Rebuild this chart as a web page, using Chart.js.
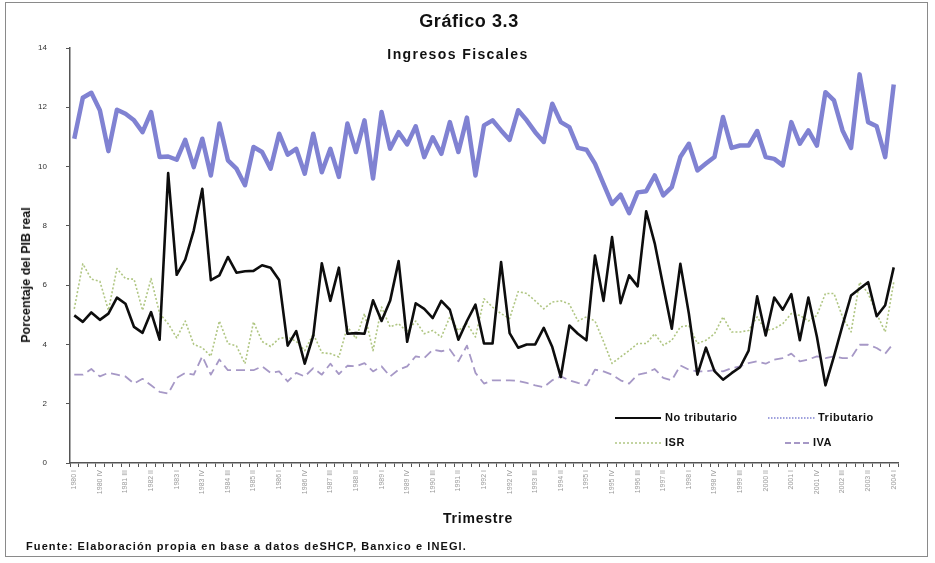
<!DOCTYPE html>
<html>
<head>
<meta charset="utf-8">
<script src="https://cdn.jsdelivr.net/npm/chart.js@4.4.1/dist/chart.umd.min.js"></script>
<style>
  html, body { margin: 0; padding: 0; background: #fff; }
  #wrap { position: relative; width: 935px; height: 563px; overflow: hidden;
          font-family: "Liberation Sans", Arial, sans-serif; }
  #frame { position: absolute; left: 5px; top: 2px; width: 923px; height: 555px;
           border: 1.5px solid #8a8a8a; box-sizing: border-box; }
  canvas { position: absolute; left: 0; top: 0; }
  .t { position: absolute; white-space: nowrap; font-weight: bold; color: #111; }
</style>
</head>
<body>
<div id="wrap">
  <div id="frame"></div>
  <canvas id="c" width="935" height="563"></canvas>
  <div class="t" style="left:0;width:938px;text-align:center;top:11px;font-size:18px;letter-spacing:0.6px;">Gráfico 3.3</div>
  <div class="t" style="left:0;width:916px;text-align:center;top:46px;font-size:14px;letter-spacing:1.4px;">Ingresos Fiscales</div>
  <div class="t" style="left:26px;top:275px;font-size:12.5px;transform:translate(-50%,-50%) rotate(-90deg);">Porcentaje del PIB real</div>
  <div class="t" style="left:0;width:956px;text-align:center;top:510px;font-size:14px;letter-spacing:0.8px;">Trimestre</div>
  <div class="t" style="left:26px;top:540px;font-size:11px;letter-spacing:1.1px;">Fuente: Elaboración propia en base a datos deSHCP, Banxico e INEGI.</div>
</div>
<script>
// Quarter labels, 1980 I .. 2004 I
const romanQ = ['I', 'II', 'III', 'IV'];
const quarters = [];
for (let y = 1980; y <= 2004; y++) {
  for (const q of romanQ) {
    if (y === 2004 && q !== 'I') break;
    quarters.push(y + ' ' + q);
  }
}

// Revenue as % of real GDP
const noTributario = [
  4.98, 4.76, 5.08, 4.83, 5.04, 5.58, 5.37, 4.59, 4.39, 5.09,
  4.16, 9.78, 6.35, 6.86, 7.85, 9.25, 6.17, 6.33, 6.95, 6.42,
  6.47, 6.48, 6.67, 6.59, 6.17, 3.96, 4.45, 3.35, 4.30, 6.74,
  5.47, 6.59, 4.36, 4.38, 4.36, 5.49, 4.79, 5.47, 6.81, 4.09,
  5.39, 5.20, 4.89, 5.47, 5.17, 4.16, 4.79, 5.34, 4.03, 4.03,
  6.78, 4.38, 3.89, 4.00, 4.00, 4.56, 3.91, 2.90, 4.64, 4.36,
  4.14, 7.00, 5.47, 7.62, 5.39, 6.33, 5.96, 8.49, 7.41, 5.96,
  4.53, 6.72, 5.04, 2.98, 3.89, 3.10, 2.81, 3.03, 3.23, 3.79,
  5.62, 4.30, 5.58, 5.17, 5.70, 4.14, 5.58, 4.26, 2.62, 3.60,
  4.64, 5.65, 5.88, 6.10, 4.95, 5.32, 6.60
];
const tributario = [
  10.94, 12.32, 12.49, 11.90, 10.52, 11.92, 11.78, 11.56, 11.16, 11.84,
  10.32, 10.34, 10.23, 10.90, 9.98, 10.94, 9.70, 11.45, 10.21, 9.93,
  9.37, 10.66, 10.49, 9.93, 11.11, 10.40, 10.60, 9.76, 11.11, 9.81,
  10.60, 9.65, 11.45, 10.49, 11.56, 9.60, 11.84, 10.60, 11.16, 10.75,
  11.36, 10.32, 10.99, 10.43, 11.50, 10.49, 11.65, 9.70, 11.39, 11.56,
  11.22, 10.90, 11.90, 11.56, 11.16, 10.83, 12.12, 11.50, 11.33, 10.63,
  10.57, 10.10, 9.42, 8.74, 9.05, 8.43, 9.13, 9.17, 9.70, 9.03,
  9.31, 10.32, 10.77, 9.87, 10.10, 10.32, 11.67, 10.63, 10.71, 10.71,
  11.20, 10.32, 10.26, 10.04, 11.50, 10.77, 11.22, 10.71, 12.51, 12.23,
  11.22, 10.63, 13.11, 11.50, 11.36, 10.32, 12.77
];
const isr = [
  5.20, 6.72, 6.20, 6.13, 5.15, 6.56, 6.22, 6.20, 5.15, 6.22,
  5.04, 4.70, 4.22, 4.79, 4.00, 3.89, 3.60, 4.79, 4.03, 3.95,
  3.35, 4.76, 4.10, 3.93, 4.20, 4.25, 4.10, 3.79, 4.36, 3.72,
  3.69, 3.58, 4.60, 4.20, 5.04, 3.79, 5.26, 4.59, 4.70, 4.42,
  4.79, 4.36, 4.47, 4.25, 4.93, 4.47, 4.70, 4.25, 5.54, 5.26,
  5.04, 4.87, 5.78, 5.72, 5.47, 5.20, 5.43, 5.47, 5.36, 4.79,
  4.93, 4.79, 4.10, 3.36, 3.58, 3.79, 4.03, 4.03, 4.36, 3.97,
  4.14, 4.59, 4.64, 4.03, 4.14, 4.36, 4.93, 4.42, 4.42, 4.47,
  4.93, 4.47, 4.53, 4.70, 5.04, 4.98, 4.79, 4.98, 5.72, 5.72,
  4.93, 4.42, 6.10, 5.72, 5.04, 4.42, 6.10
];
const iva = [
  2.98, 2.98, 3.17, 2.92, 3.04, 2.98, 2.92, 2.68, 2.84, 2.62,
  2.40, 2.34, 2.87, 3.04, 2.98, 3.60, 2.98, 3.49, 3.13, 3.13,
  3.13, 3.13, 3.26, 3.04, 3.09, 2.75, 3.04, 2.92, 3.20, 2.98,
  3.35, 3.00, 3.28, 3.26, 3.37, 3.09, 3.26, 2.92, 3.15, 3.26,
  3.60, 3.54, 3.82, 3.77, 3.83, 3.43, 3.96, 3.04, 2.68, 2.79,
  2.79, 2.79, 2.77, 2.70, 2.62, 2.56, 2.79, 2.92, 2.79, 2.70,
  2.62, 3.15, 3.09, 2.98, 2.79, 2.68, 2.98, 3.04, 3.17, 2.87,
  2.79, 3.29, 3.15, 3.09, 3.09, 3.13, 3.09, 3.20, 3.26, 3.37,
  3.43, 3.35, 3.49, 3.54, 3.69, 3.43, 3.49, 3.60, 3.54, 3.60,
  3.54, 3.54, 3.99, 3.99, 3.88, 3.69, 4.05
];

// Two-by-two legend drawn inside the plot area, using each dataset's colour
const cornerLegend = {
  id: 'cornerLegend',
  afterDatasetsDraw(chart, args, opts) {
    const ctx = chart.ctx;
    opts.items.forEach(it => {
      const ds = chart.data.datasets[it.dataset];
      ctx.save();
      ctx.strokeStyle = ds.borderColor;
      ctx.lineWidth = it.lineWidth;
      ctx.setLineDash(it.dash || []);
      ctx.beginPath();
      ctx.moveTo(it.x0, it.y);
      ctx.lineTo(it.x1, it.y);
      ctx.stroke();
      ctx.setLineDash([]);
      ctx.fillStyle = '#111';
      ctx.font = 'bold 11px "Liberation Sans", Arial, sans-serif';
      if ('letterSpacing' in ctx) ctx.letterSpacing = '0.5px';
      ctx.textBaseline = 'middle';
      ctx.fillText(ds.label, it.tx, it.y);
      ctx.restore();
    });
  }
};

new Chart(document.getElementById('c'), {
  type: 'line',
  data: {
    labels: quarters,
    datasets: [
      { label: 'No tributario', data: noTributario, borderColor: '#0d0d0d', borderWidth: 2.6 },
      { label: 'Tributario', data: tributario, borderColor: '#8082d2', borderWidth: 4.5 },
      { label: 'ISR', data: isr, borderColor: '#b0c683', borderWidth: 1.6, borderDash: [2, 2] },
      { label: 'IVA', data: iva, borderColor: '#a698c6', borderWidth: 1.8, borderDash: [9, 5] }
    ]
  },
  options: {
    responsive: false,
    animation: false,
    layout: { padding: { left: 0, right: 37, top: 48, bottom: 0 } },
    elements: {
      point: { radius: 0 },
      line: { tension: 0, borderJoinStyle: 'round', fill: false }
    },
    plugins: {
      legend: { display: false },
      tooltip: { enabled: false },
      cornerLegend: {
        items: [
          { dataset: 0, x0: 615, x1: 661, y: 418, tx: 665, lineWidth: 2, dash: [] },
          { dataset: 1, x0: 768, x1: 816, y: 418, tx: 818, lineWidth: 1.5, dash: [1.5, 1.5] },
          { dataset: 2, x0: 615, x1: 661, y: 443, tx: 665, lineWidth: 1.5, dash: [2, 2] },
          { dataset: 3, x0: 785, x1: 809, y: 443, tx: 813, lineWidth: 1.8, dash: [6, 3] }
        ]
      }
    },
    scales: {
      x: {
        offset: true,
        grid: { display: true, drawOnChartArea: false, drawTicks: true, tickLength: 4, color: '#555', offset: true },
        border: { color: '#555', width: 1.5 },
        ticks: {
          autoSkip: false, minRotation: 90, maxRotation: 90, padding: 3,
          font: { size: 7, family: '"Liberation Sans", Arial, sans-serif' },
          color: '#9a9a9a',
          callback: (v, i) => (i % 3 === 0 ? quarters[i] : '')
        },
        afterFit(s) { s.height = 100; }
      },
      y: {
        min: 0, max: 14,
        ticks: {
          stepSize: 2, padding: 19,
          font: { size: 8, family: '"Liberation Sans", Arial, sans-serif' },
          color: '#333'
        },
        grid: { drawOnChartArea: false, drawTicks: true, tickLength: 4, color: '#555' },
        border: { color: '#555', width: 1.5 },
        afterFit(s) { s.width = 70; }
      }
    }
  },
  plugins: [cornerLegend]
});
</script>
</body>
</html>
